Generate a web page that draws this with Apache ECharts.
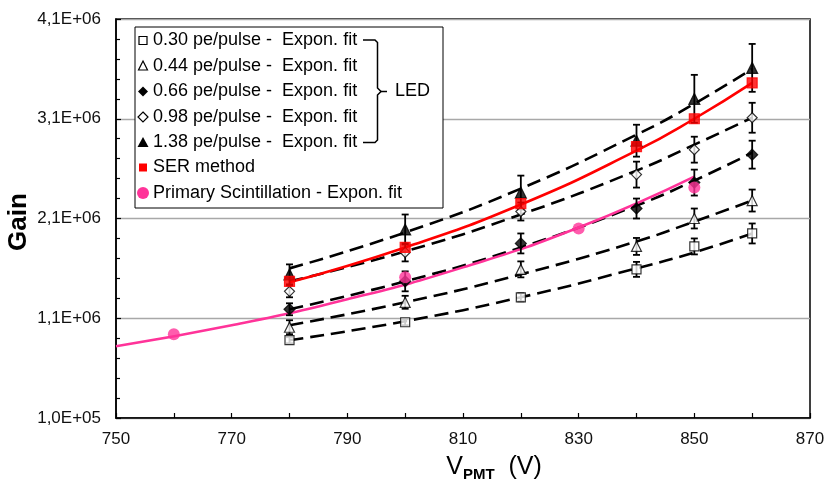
<!DOCTYPE html>
<html><head><meta charset="utf-8">
<script src="https://cdn.jsdelivr.net/npm/echarts@6/dist/echarts.min.js"></script>
<style>html,body{margin:0;padding:0;background:#fff}#c{width:824px;height:484px}</style>
</head><body><div id="c"></div>
<script>
// ---- data ----
const voltages = [780, 800, 820, 840, 850, 860];
// LED measurements (gain) and their errors
const led030 = [0.88e6, 1.06e6, 1.31e6, 1.59e6, 1.82e6, 1.95e6];
const led030Err = [0.03e6, 0.03e6, 0.04e6, 0.075e6, 0.08e6, 0.10e6];
const led044 = [1.01e6, 1.26e6, 1.59e6, 1.82e6, 2.10e6, 2.28e6];
const led044Err = [0.07e6, 0.065e6, 0.08e6, 0.085e6, 0.10e6, 0.11e6];
const led066 = [1.19e6, 1.47e6, 1.85e6, 2.20e6, 2.46e6, 2.74e6];
const led066Err = [0.06e6, 0.10e6, 0.10e6, 0.10e6, 0.13e6, 0.14e6];
const led098 = [1.37e6, 1.76e6, 2.17e6, 2.54e6, 2.79e6, 3.11e6];
const led098Err = [0.06e6, 0.09e6, 0.09e6, 0.13e6, 0.13e6, 0.15e6];
const led138 = [1.54e6, 1.99e6, 2.36e6, 2.88e6, 3.30e6, 3.61e6];
const led138Err = [0.10e6, 0.15e6, 0.17e6, 0.16e6, 0.24e6, 0.24e6];
// exponential fit curves, read at the same voltages
const fit030 = [0.88e6, 1.07e6, 1.31e6, 1.60e6, 1.76e6, 1.95e6];
const fit044 = [1.03e6, 1.26e6, 1.54e6, 1.87e6, 2.07e6, 2.28e6];
const fit066 = [1.19e6, 1.47e6, 1.81e6, 2.23e6, 2.48e6, 2.76e6];
const fit098 = [1.47e6, 1.77e6, 2.14e6, 2.58e6, 2.84e6, 3.11e6];
const fit138 = [1.60e6, 1.96e6, 2.40e6, 2.94e6, 3.25e6, 3.60e6];
// SER method
const ser = [1.47e6, 1.81e6, 2.25e6, 2.82e6, 3.10e6, 3.46e6];
const serFit = [1.46e6, 1.81e6, 2.24e6, 2.78e6, 3.10e6, 3.46e6];
// Primary scintillation
const psVolt = [760, 800, 830, 850];
const psGain = [0.94e6, 1.51e6, 2.00e6, 2.41e6];
const psFitVolt = [750, 770, 790, 810, 830, 850];
const psFitGain = [0.82e6, 1.03e6, 1.29e6, 1.61e6, 2.01e6, 2.52e6];
// legend labels
const legendLabels = [
  '0.30 pe/pulse -  Expon. fit',
  '0.44 pe/pulse -  Expon. fit',
  '0.66 pe/pulse -  Expon. fit',
  '0.98 pe/pulse -  Expon. fit',
  '1.38 pe/pulse -  Expon. fit',
  'SER method',
  'Primary Scintillation - Expon. fit'
];

// ---- chart ----
const FONT = '"Liberation Sans", Arial, sans-serif';
const pairs = (xs, ys) => xs.map((x, i) => [x, ys[i]]);
const errs = (ys, es) => voltages.map((x, i) => [x, ys[i] - es[i], ys[i] + es[i]]);

function fmtSci(v) {
  const e = Math.floor(Math.log10(v) + 1e-9);
  const m = v / Math.pow(10, e);
  return m.toFixed(1).replace('.', ',') + 'E+' + String(e).padStart(2, '0');
}

const dashed = { color: '#000', width: 2.6, type: [14, 7] };
function fitSeries(data) {
  return { type: 'line', data: pairs(voltages, data), smooth: true, showSymbol: false,
    lineStyle: dashed, z: 2, silent: true };
}
function errSeries(data) {
  return {
    type: 'custom', z: 3, silent: true, data: data,
    renderItem: function (params, api) {
      const x = api.value(0);
      const p1 = api.coord([x, api.value(1)]);
      const p2 = api.coord([x, api.value(2)]);
      const w = 3.5;
      const st = { stroke: '#000', lineWidth: 1.8 };
      return { type: 'group', children: [
        { type: 'line', shape: { x1: p1[0], y1: p1[1], x2: p2[0], y2: p2[1] }, style: st },
        { type: 'line', shape: { x1: p1[0] - w, y1: p1[1], x2: p1[0] + w, y2: p1[1] }, style: st },
        { type: 'line', shape: { x1: p2[0] - w, y1: p2[1], x2: p2[0] + w, y2: p2[1] }, style: st }
      ]};
    }
  };
}
function pts(data, symbol, size, fill, stroke) {
  return { type: 'scatter', data: pairs(voltages, data), symbol: symbol, symbolSize: size, z: 4,
    itemStyle: { color: fill, borderColor: stroke, borderWidth: 1.2 } };
}

// legend graphics
const LX = 143, LT = 153, rowY = [40.5, 66, 91.5, 117, 142.5, 167.5, 193];
const g = [];
g.push({ type: 'rect', shape: { x: 135, y: 27, width: 308, height: 181 },
  style: { fill: '#fff', stroke: '#000', lineWidth: 1 }, z: 10 });
const mk = [
  { type: 'rect', shape: { x: LX - 4, y: rowY[0] - 4, width: 8, height: 8 }, style: { fill: '#fff', stroke: '#000', lineWidth: 1.2 } },
  { type: 'polygon', shape: { points: [[LX, rowY[1] - 5], [LX + 4.5, rowY[1] + 4], [LX - 4.5, rowY[1] + 4]] }, style: { fill: '#fff', stroke: '#000', lineWidth: 1.2 } },
  { type: 'polygon', shape: { points: [[LX, rowY[2] - 5], [LX + 5, rowY[2]], [LX, rowY[2] + 5], [LX - 5, rowY[2]]] }, style: { fill: '#000' } },
  { type: 'polygon', shape: { points: [[LX, rowY[3] - 5], [LX + 5, rowY[3]], [LX, rowY[3] + 5], [LX - 5, rowY[3]]] }, style: { fill: '#fff', stroke: '#000', lineWidth: 1.2 } },
  { type: 'polygon', shape: { points: [[LX, rowY[4] - 5.5], [LX + 5.5, rowY[4] + 4.5], [LX - 5.5, rowY[4] + 4.5]] }, style: { fill: '#000' } },
  { type: 'rect', shape: { x: LX - 4, y: rowY[5] - 4, width: 8, height: 8 }, style: { fill: '#ff0000' } },
  { type: 'circle', shape: { cx: LX, cy: rowY[6], r: 6 }, style: { fill: '#ff3399' } }
];
mk.forEach(m => { m.z = 11; g.push(m); });
legendLabels.forEach((t, i) => {
  g.push({ type: 'text', x: LT, y: rowY[i], z: 11,
    style: { text: t, font: '18px ' + FONT, fill: '#000', textVerticalAlign: 'middle', textAlign: 'left' } });
});
g.push({ type: 'polyline', z: 11, shape: { points: [[363, 40], [375, 40], [377.5, 42.5], [377.5, 88], [381, 91.5], [377.5, 95], [377.5, 140], [375, 142.5], [363, 142.5]] },
  style: { stroke: '#000', lineWidth: 1.5, fill: null } });
g.push({ type: 'line', z: 11, shape: { x1: 381, y1: 91.5, x2: 387, y2: 91.5 }, style: { stroke: '#000', lineWidth: 1.5 } });
g.push({ type: 'text', x: 395, y: 91.5, z: 11,
  style: { text: 'LED', font: '18px ' + FONT, fill: '#000', textVerticalAlign: 'middle' } });
// y-axis title
g.push({ type: 'text', x: 19, y: 222, rotation: Math.PI / 2, z: 11,
  style: { text: 'Gain', font: 'bold 26px ' + FONT, fill: '#000', textAlign: 'center', textVerticalAlign: 'middle' } });

const chart = echarts.init(document.getElementById('c'), null, { renderer: 'canvas' });
chart.setOption({
  animation: false,
  backgroundColor: '#fff',
  grid: { left: 116, right: 14, top: 19, bottom: 66, show: true, borderColor: '#000', borderWidth: 1.5,
    backgroundColor: 'transparent', containLabel: false, outerBoundsMode: 'none' },
  xAxis: {
    type: 'value', min: 750, max: 870, interval: 20,
    name: '{a|V}{b|PMT}{a|  (V)}', nameLocation: 'middle', nameGap: 34,
    nameTextStyle: { fontFamily: FONT, color: '#000', padding: [0, 0, 0, 62],
      rich: { a: { fontSize: 25, lineHeight: 30, fontFamily: FONT, color: '#000' },
              b: { fontSize: 15, fontWeight: 'bold', lineHeight: 12, verticalAlign: 'bottom', fontFamily: FONT, color: '#000' } } },
    axisLine: { lineStyle: { color: '#000', width: 1.5 } },
    axisTick: { inside: true, length: 5, lineStyle: { color: '#000', width: 1.2 } },
    minorTick: { show: true, splitNumber: 2, length: 5, lineStyle: { color: '#000', width: 1.2 } },
    splitLine: { show: false },
    axisLabel: { fontFamily: FONT, fontSize: 17, color: '#111', margin: 13 }
  },
  yAxis: {
    type: 'value', min: 1e5, max: 4.1e6, interval: 1e6,
    axisLine: { lineStyle: { color: '#000', width: 1.5 } },
    axisTick: { inside: true, length: 5, lineStyle: { color: '#000', width: 1.2 } },
    minorTick: { show: true, splitNumber: 5, length: 4, lineStyle: { color: '#000', width: 1.2 } },
    splitLine: { show: true, lineStyle: { color: '#a8a8a8', width: 1.3 } },
    axisLabel: { fontFamily: FONT, fontSize: 17, color: '#111', margin: 15, formatter: fmtSci }
  },
  series: [
    fitSeries(fit030), fitSeries(fit044), fitSeries(fit066), fitSeries(fit098), fitSeries(fit138),
    { type: 'line', data: pairs(voltages, serFit), smooth: true, showSymbol: false, z: 2, silent: true,
      lineStyle: { color: '#ff0000', width: 2.6 } },
    { type: 'line', data: pairs(psFitVolt, psFitGain), smooth: true, showSymbol: false, z: 2, silent: true,
      lineStyle: { color: '#ff3399', width: 2.6 } },
    errSeries(errs(led030, led030Err)), errSeries(errs(led044, led044Err)), errSeries(errs(led066, led066Err)),
    errSeries(errs(led098, led098Err)), errSeries(errs(led138, led138Err)),
    pts(led030, 'rect', 9, '#fff', '#000'),
    pts(led044, 'triangle', 10, '#fff', '#000'),
    pts(led066, 'diamond', 11, '#000', '#000'),
    pts(led098, 'diamond', 10, '#fff', '#000'),
    pts(led138, 'triangle', 11, '#000', '#000'),
    pts(ser, 'rect', 10, '#ff0000', '#ff0000'),
    { type: 'scatter', data: pairs(psVolt, psGain), symbol: 'circle', symbolSize: 12, z: 5,
      itemStyle: { color: '#ff3399' } }
  ],
  graphic: g
});
</script>
</body></html>
